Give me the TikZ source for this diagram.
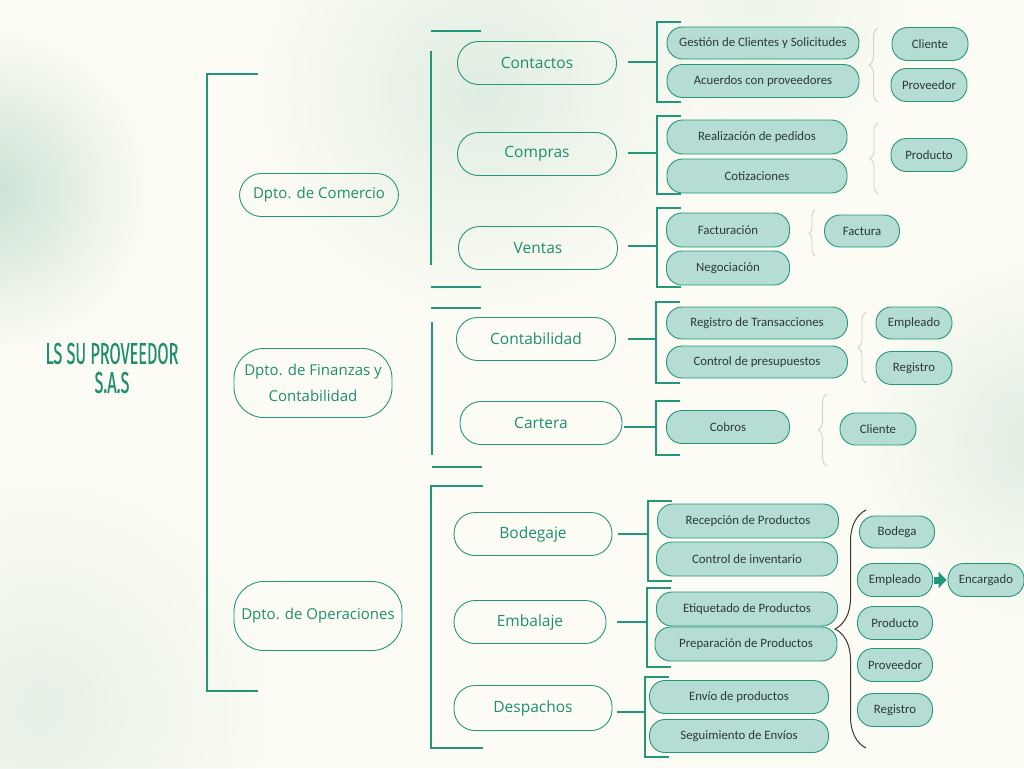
\documentclass[tikz,border=0pt]{standalone}
\usepackage{fontspec}
\setmainfont{Open Sans}
\newfontfamily\leaffont{Carlito}
\newfontfamily\titlefont{Fira Sans}[FakeBold=0.6]
\usetikzlibrary{decorations.pathreplacing,fadings,arrows.meta,calc}
\tikzfading[name=softblob, inner color=transparent!0, outer color=transparent!100]
\definecolor{bgc}{HTML}{FCFCF4}
\definecolor{tealc}{HTML}{23977A}
\definecolor{tealtext}{HTML}{1E8E6E}
\definecolor{leafc}{HTML}{B6DDD3}
\definecolor{leaftext}{HTML}{2C3936}
\definecolor{mint}{HTML}{BFDCCB}
\definecolor{lbr}{HTML}{CFCFC8}
\definecolor{dbr}{HTML}{3A3A3A}
\begin{document}
\begin{tikzpicture}[x=1pt,y=-1pt,
  conn/.style={draw=tealc,line width=1.1pt},
  lvone/.style={draw=tealc,line width=0.9pt,rounded corners=22pt,text=tealtext,
     font=\fontsize{15}{26}\selectfont,align=center,inner sep=0pt},
  lvtwo/.style={draw=tealc,line width=0.9pt,rounded corners=21pt,text=tealtext,
     font=\fontsize{15.5}{18}\selectfont,minimum height=43pt,inner sep=0pt},
  leaf/.style={draw=tealc,line width=0.9pt,fill=leafc,rounded corners=15.5pt,text=leaftext,
     font=\leaffont\fontsize{12.8}{14}\selectfont,minimum height=32pt,inner sep=0pt},
  lbrace/.style={draw=lbr,line width=0.8pt,decorate},
  dbrace/.style={draw=dbr,line width=1pt,decorate}
]
\useasboundingbox (0,0) rectangle (1024,768);
\fill[bgc] (0,0) rectangle (1024,768);
% soft background blobs
\begin{scope}
\clip (0,0) rectangle (1024,768);
\fill[mint,path fading=softblob,fill opacity=0.8] (-10,190) circle (160);
\fill[mint,path fading=softblob,fill opacity=0.45] (480,90) circle (220);
\fill[mint,path fading=softblob,fill opacity=0.45] (1040,440) circle (180);
\fill[mint,path fading=softblob,fill opacity=0.35] (40,710) circle (230);
\fill[mint,path fading=softblob,fill opacity=0.25] (760,0) circle (150);
\end{scope}

% title
\node[text=tealtext,font=\titlefont\fontsize{30}{29}\selectfont,align=center] (title) at (112,368)
  {\scalebox{0.54}[1]{LS SU PROVEEDOR}\\\scalebox{0.54}[1]{S.A.S}};

% main bracket
\draw[conn] (258,74) -- (207,74) -- (207,691) -- (258,691);

% level 1
\node[lvone,minimum width=159pt,minimum height=43pt] (com) at (319,195) {Dpto. de Comercio};
\node[lvone,minimum width=158pt,minimum height=69pt,rounded corners=30pt] (fin) at (313,383) {Dpto. de Finanzas y\\Contabilidad};
\node[lvone,minimum width=168pt,minimum height=69pt,rounded corners=30pt] (ope) at (318,616) {Dpto. de Operaciones};

% level 2 brackets
\draw[conn] (431,31) -- (481,31);
\draw[conn] (431,51) -- (431,265);
\draw[conn] (431,287) -- (481,287);
\draw[conn] (431,308) -- (481,308);
\draw[conn] (432,322) -- (432,455);
\draw[conn] (432,467) -- (482,467);
\draw[conn] (483,486) -- (431,486) -- (431,748) -- (483,748);

% level 2 nodes
\node[lvtwo,minimum width=159pt] (contactos) at (537,63) {Contactos};
\node[lvtwo,minimum width=159pt] (compras) at (537,154) {Compras};
\node[lvtwo,minimum width=159pt] (ventas) at (538,248) {Ventas};
\node[lvtwo,minimum width=159pt] (contab) at (536,339) {Contabilidad};
\node[lvtwo,minimum width=162pt] (cartera) at (541,423) {Cartera};
\node[lvtwo,minimum width=158pt] (bodegaje) at (533,534) {Bodegaje};
\node[lvtwo,minimum width=152pt] (embalaje) at (530,622) {Embalaje};
\node[lvtwo,minimum width=158pt,minimum height=45pt] (despachos) at (533,708) {Despachos};

% level 3 brackets
\draw[conn] (681,22) -| (657,102) -- (681,102);
\draw[conn] (681,116) -| (657,194) -- (681,194);
\draw[conn] (681,208) -| (657,287) -- (681,287);
\draw[conn] (680,302) -| (656,383) -- (680,383);
\draw[conn] (680,401) -| (656,455) -- (680,455);
\draw[conn] (672,501) -| (648,581) -- (672,581);
\draw[conn] (671,588) -| (647,667) -- (671,667);
\draw[conn] (669,677) -| (645,757) -- (669,757);

\coordinate (jcont) at (657,62);
\coordinate (jcomp) at (657,153);
\coordinate (jvent) at (657,246);
\coordinate (jcontab) at (656,339);
\coordinate (jcart) at (656,427);
\coordinate (jbod) at (648,534);
\coordinate (jemb) at (647,622);
\coordinate (jdesp) at (645,712);
\draw[conn] ([xshift=11pt]contactos.east |- jcont) -- (jcont);
\draw[conn] ([xshift=11pt]compras.east |- jcomp) -- (jcomp);
\draw[conn] ([xshift=10pt]ventas.east |- jvent) -- (jvent);
\draw[conn] ([xshift=12pt]contab.east |- jcontab) -- (jcontab);
\draw[conn] ([xshift=2pt]cartera.east |- jcart) -- (jcart);
\draw[conn] ([xshift=6pt]bodegaje.east |- jbod) -- (jbod);
\draw[conn] ([xshift=11pt]embalaje.east |- jemb) -- (jemb);
\draw[conn] ([xshift=5pt]despachos.east |- jdesp) -- (jdesp);

% level 3 leaves
\node[leaf,minimum width=192pt] (gest) at (763,43) {Gestión de Clientes y Solicitudes};
\node[leaf,minimum width=192pt,minimum height=33pt] (acue) at (763,81) {Acuerdos con proveedores};
\node[leaf,minimum width=180pt,minimum height=34pt] (real) at (757,137) {Realización de pedidos};
\node[leaf,minimum width=180pt,minimum height=34pt] (coti) at (757,176) {Cotizaciones};
\node[leaf,minimum width=123pt,minimum height=34pt] (fact) at (728,230) {Facturación};
\node[leaf,minimum width=123pt,minimum height=34pt] (nego) at (728,268) {Negociación};
\node[leaf,minimum width=181pt] (regt) at (757,323) {Registro de Transacciones};
\node[leaf,minimum width=181pt] (cpre) at (757,362) {Control de presupuestos};
\node[leaf,minimum width=123pt,minimum height=33pt] (cobr) at (728,427) {Cobros};
\node[leaf,minimum width=181pt,minimum height=34pt] (recp) at (748,521) {Recepción de Productos};
\node[leaf,minimum width=181pt,minimum height=34pt] (cinv) at (747,559) {Control de inventario};
\node[leaf,minimum width=181pt,minimum height=34pt] (etiq) at (747,609) {Etiquetado de Productos};
\node[leaf,minimum width=182pt,minimum height=34pt] (prep) at (746,644) {Preparación de Productos};
\node[leaf,minimum width=179pt,minimum height=33pt] (envi) at (739,697) {Envío de productos};
\node[leaf,minimum width=179pt,minimum height=33pt] (segu) at (739,736) {Seguimiento de Envíos};

% braces
\draw[lbrace,decoration={brace,amplitude=9pt}] (878,102) -- (878,28);
\draw[lbrace,decoration={brace,amplitude=8pt}] (878,194) -- (878,123);
\draw[lbrace,decoration={brace,amplitude=6pt}] (815,256) -- (815,210);
\draw[lbrace,decoration={brace,amplitude=8pt}] (866,383) -- (866,312);
\draw[lbrace,decoration={brace,amplitude=9pt}] (827,466) -- (827,394);
\draw[dbrace,decoration={brace,amplitude=31pt}] (866,748) -- (866,510);

% level 4
\node[leaf,minimum width=76pt,minimum height=33pt] (cli1) at (930,44) {Cliente};
\node[leaf,minimum width=76pt,minimum height=33pt] (prov1) at (929,85) {Proveedor};
\node[leaf,minimum width=76pt,minimum height=33pt] (prod1) at (929,155) {Producto};
\node[leaf,minimum width=75pt] (factu) at (862,231) {Factura};
\node[leaf,minimum width=76pt] (emp1) at (914,323) {Empleado};
\node[leaf,minimum width=76pt,minimum height=33pt] (reg1) at (914,368) {Registro};
\node[leaf,minimum width=76pt] (cli2) at (878,429) {Cliente};
\node[leaf,minimum width=75pt] (bode) at (897,532) {Bodega};
\node[leaf,minimum width=75pt,minimum height=33pt] (emp2) at (895,580) {Empleado};
\node[leaf,minimum width=76pt,minimum height=33pt] (enca) at (986,580) {Encargado};
\node[leaf,minimum width=75pt,minimum height=33pt] (prod2) at (895,623) {Producto};
\node[leaf,minimum width=75pt,minimum height=33pt] (prov2) at (895,665) {Proveedor};
\node[leaf,minimum width=75pt,minimum height=33pt] (reg2) at (895,710) {Registro};

\draw[draw=tealc,line width=7pt,-{Triangle[length=8pt,width=16pt]},shorten <=1.5pt,shorten >=1pt] (emp2.east) -- (enca.west);
\end{tikzpicture}
\end{document}
